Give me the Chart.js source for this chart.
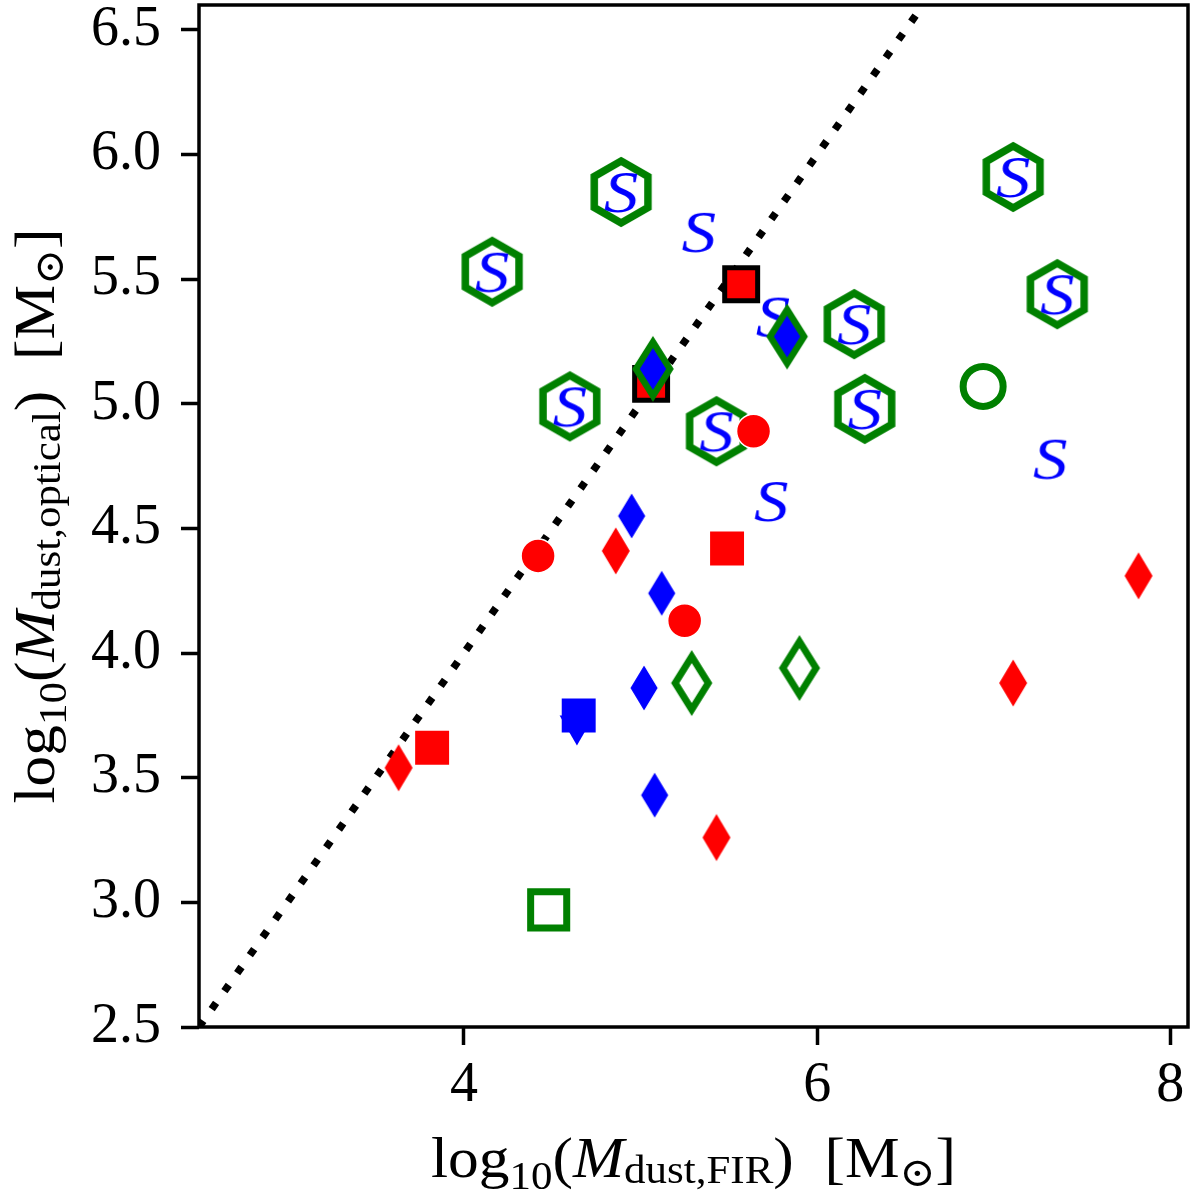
<!DOCTYPE html>
<html>
<head>
<meta charset="utf-8">
<script src="https://cdn.jsdelivr.net/npm/chart.js@4.4.1/dist/chart.umd.min.js"></script>
<style>
  html, body { margin: 0; background: #fff; }
</style>
</head>
<body>
<canvas id="dustChart" width="1200" height="1197"></canvas>
<script>
// axes
const xRange = [2.5, 8.1];
const yRange = [2.5, 6.6];
const xTicks = [4, 6, 8];
const yTicks = [2.5, 3.0, 3.5, 4.0, 4.5, 5.0, 5.5, 6.0, 6.5];

// 1:1 reference line
const oneToOne = [2.5, 6.6];

// green hexagons
const hexX = [4.89, 4.16, 4.60, 5.43, 6.21, 6.27, 7.11, 7.36];
const hexY = [5.85, 5.53, 4.99, 4.89, 5.32, 4.98, 5.91, 5.44];
// blue "S" marks without hexagon
const sOnlyX = [5.33, 5.75, 5.74, 7.32];
const sOnlyY = [5.69, 5.35, 4.61, 4.78];

// red squares with black edge
const redEdgeSqX = [5.57, 5.06];
const redEdgeSqY = [5.48, 5.08];
// blue diamonds with green edge
const greenEdgeDiaX = [5.07, 5.83];
const greenEdgeDiaY = [5.14, 5.27];

// red circles
const redCircX = [5.64, 4.42, 5.25];
const redCircY = [4.89, 4.39, 4.13];
// red squares
const redSqX = [5.49, 3.82];
const redSqY = [4.42, 3.62];
// red diamonds
const redDiaX = [4.86, 3.63, 5.43, 7.11, 7.82];
const redDiaY = [4.41, 3.54, 3.26, 3.88, 4.31];

// blue diamonds
const blueDiaX = [4.95, 5.12, 5.02, 5.08];
const blueDiaY = [4.55, 4.24, 3.86, 3.43];
// blue square + down triangle
const blueSqX = [4.65];
const blueSqY = [3.75];
const blueTriX = [4.64];
const blueTriY = [3.71];

// green open markers
const greenDiaX = [5.29, 5.90];
const greenDiaY = [3.88, 3.94];
const greenCircX = [6.94];
const greenCircY = [5.07];
const greenSqX = [4.48];
const greenSqY = [2.97];

const xTitle = [['log', ''], ['10', 'sub', 0.2], ['(', ''], ['M', 'it'], ['dust,FIR', 'sub', 0.1], [')', ''], ['  [M', ''], ['\u2299', 'sub', 0.15], [']', '']];
const yTitle = [['log', ''], ['10', 'sub', 0.2], ['(', ''], ['M', 'it'], ['dust,optical', 'sub', 0.1], [')', ''], ['  [M', ''], ['\u2299', 'sub', 0.15], [']', '']];

const RED = '#ff0000';
const BLUE = '#0000ff';
const GREEN = '#008000';
const SERIF = '"Liberation Serif", "DejaVu Serif", "DejaVu Sans", serif';

const pts = (xs, ys) => xs.map((x, i) => ({ x: x, y: ys[i] }));

// little canvases used as point styles
function markerCanvas(w, h, paint) {
  const c = document.createElement('canvas');
  c.width = w;
  c.height = h;
  const g = c.getContext('2d');
  g.translate(w / 2, h / 2);
  paint(g);
  return c;
}
function diamondPath(g, hw, hh) {
  g.beginPath();
  g.moveTo(0, -hh);
  g.lineTo(hw, 0);
  g.lineTo(0, hh);
  g.lineTo(-hw, 0);
  g.closePath();
}
const redDiamond = markerCanvas(34, 52, g => {
  diamondPath(g, 14, 23.5);
  g.fillStyle = RED;
  g.fill();
});
const blueDiamond = markerCanvas(36, 54, g => {
  diamondPath(g, 14.5, 24);
  g.fillStyle = BLUE;
  g.fill();
  g.strokeStyle = '#fff';
  g.lineWidth = 1.5;
  g.stroke();
});
const greenEdgeDiamond = markerCanvas(50, 76, g => {
  diamondPath(g, 17, 27);
  g.fillStyle = BLUE;
  g.fill();
  g.lineJoin = 'miter';
  g.miterLimit = 10;
  g.strokeStyle = GREEN;
  g.lineWidth = 6.5;
  g.stroke();
});
const greenOpenDiamond = markerCanvas(50, 76, g => {
  diamondPath(g, 16.5, 26.5);
  g.lineJoin = 'miter';
  g.miterLimit = 10;
  g.strokeStyle = GREEN;
  g.lineWidth = 7;
  g.stroke();
});
const hexagon = markerCanvas(76, 82, g => {
  g.beginPath();
  for (let k = 0; k < 6; k++) {
    const a = -Math.PI / 2 + k * Math.PI / 3;
    const px = 31 * Math.cos(a), py = 31 * Math.sin(a);
    if (k === 0) g.moveTo(px, py); else g.lineTo(px, py);
  }
  g.closePath();
  g.lineJoin = 'miter';
  g.strokeStyle = GREEN;
  g.lineWidth = 7.5;
  g.stroke();
});
const sMark = markerCanvas(76, 80, g => {
  g.font = 'italic 60px ' + SERIF;
  g.fillStyle = BLUE;
  g.textAlign = 'center';
  g.textBaseline = 'alphabetic';
  g.scale(1.15, 1);
  g.fillText('S', 0, 20);
});

// rich axis titles (subscripts, italic M)
function drawRich(ctx, parts, size) {
  let x = 0;
  for (const [t, kind, drop] of parts) {
    const fs = kind === 'sub' ? size * 0.7 : size;
    ctx.font = (kind === 'it' ? 'italic ' : '') + fs + 'px ' + SERIF;
    ctx.fillText(t, x, kind === 'sub' ? size * drop : 0);
    x += ctx.measureText(t).width;
  }
  return x;
}
function richWidth(ctx, parts, size) {
  let w = 0;
  for (const [t, kind] of parts) {
    const fs = kind === 'sub' ? size * 0.7 : size;
    ctx.font = (kind === 'it' ? 'italic ' : '') + fs + 'px ' + SERIF;
    w += ctx.measureText(t).width;
  }
  return w;
}

const framePlugin = {
  id: 'frame',
  afterDatasetsDraw(chart) {
    const { ctx, chartArea: a } = chart;
    ctx.save();
    ctx.strokeStyle = '#000';
    ctx.lineWidth = 3.5;
    ctx.strokeRect(a.left, a.top, a.right - a.left, a.bottom - a.top);
    ctx.restore();
  },
  afterDraw(chart) {
    const { ctx, chartArea: a } = chart;
    const size = 58;
    ctx.save();
    ctx.fillStyle = '#000';
    ctx.textBaseline = 'alphabetic';
    ctx.textAlign = 'left';
    // x title
    let w = richWidth(ctx, xTitle, size);
    let sx = Math.min(1.2, 525 / w);
    ctx.save();
    ctx.translate((a.left + a.right) / 2 - w * sx / 2, 1177);
    ctx.scale(sx, 1);
    drawRich(ctx, xTitle, size);
    ctx.restore();
    // y title
    w = richWidth(ctx, yTitle, size);
    sx = Math.min(1.2, 575 / w);
    ctx.save();
    ctx.translate(54, (a.top + a.bottom) / 2 + w * sx / 2);
    ctx.rotate(-Math.PI / 2);
    ctx.scale(sx, 1);
    drawRich(ctx, yTitle, size);
    ctx.restore();
    ctx.restore();
  }
};

const datasets = [
  { data: pts(oneToOne, oneToOne), showLine: true, borderColor: '#000', borderWidth: 7.5,
    borderDash: [7.5, 14.5], borderCapStyle: 'butt', pointRadius: 0 },
  { data: pts(hexX, hexY), pointStyle: hexagon, pointRadius: 20 },
  { data: pts(hexX.concat(sOnlyX), hexY.concat(sOnlyY)), pointStyle: sMark, pointRadius: 20 },
  { data: pts(blueTriX, blueTriY), pointStyle: 'triangle', rotation: 180, pointRadius: 20,
    backgroundColor: BLUE, borderWidth: 0 },
  { data: pts(blueSqX, blueSqY), pointStyle: 'rect', pointRadius: 24,
    backgroundColor: BLUE, borderWidth: 0 },
  { data: pts(greenSqX, greenSqY), pointStyle: 'rect', pointRadius: 25.5,
    backgroundColor: 'rgba(0,0,0,0)', borderColor: GREEN, borderWidth: 7 },
  { data: pts(greenCircX, greenCircY), pointStyle: 'circle', pointRadius: 20,
    backgroundColor: 'rgba(0,0,0,0)', borderColor: GREEN, borderWidth: 7 },
  { data: pts(greenDiaX, greenDiaY), pointStyle: greenOpenDiamond, pointRadius: 20 },
  { data: pts(redEdgeSqX, redEdgeSqY), pointStyle: 'rect', pointRadius: 23.3,
    backgroundColor: RED, borderColor: '#000', borderWidth: 5 },
  { data: pts(greenEdgeDiaX, greenEdgeDiaY), pointStyle: greenEdgeDiamond, pointRadius: 20 },
  { data: pts(redSqX, redSqY), pointStyle: 'rect', pointRadius: 24,
    backgroundColor: RED, borderWidth: 0 },
  { data: pts(redDiaX, redDiaY), pointStyle: redDiamond, pointRadius: 15 },
  { data: pts(blueDiaX, blueDiaY), pointStyle: blueDiamond, pointRadius: 15 },
  { data: pts(redCircX, redCircY), pointStyle: 'circle', pointRadius: 17,
    backgroundColor: RED, borderColor: '#fff', borderWidth: 1.5 }
];
// first in the list is drawn at the bottom
datasets.forEach((d, i) => { d.order = datasets.length - i; });

new Chart(document.getElementById('dustChart'), {
  type: 'scatter',
  data: { datasets: datasets },
  plugins: [framePlugin],
  options: {
    responsive: false,
    animation: false,
    events: [],
    layout: { autoPadding: false, padding: { top: 5, right: 12, left: 0, bottom: 0 } },
    plugins: {
      legend: { display: false },
      tooltip: { enabled: false }
    },
    scales: {
      x: {
        type: 'linear',
        min: xRange[0],
        max: xRange[1],
        afterBuildTicks: s => { s.ticks = xTicks.map(v => ({ value: v })); },
        afterFit: s => { s.height = 170; s.paddingLeft = 0; s.paddingRight = 0; },
        border: { display: false },
        grid: { drawOnChartArea: false, drawTicks: true, tickLength: 18, tickWidth: 3.5, tickColor: '#000' },
        ticks: {
          color: '#000',
          padding: 8,
          maxRotation: 0,
          font: { family: SERIF, size: 56 },
          callback: v => String(v)
        }
      },
      y: {
        type: 'linear',
        min: yRange[0],
        max: yRange[1],
        afterBuildTicks: s => { s.ticks = yTicks.map(v => ({ value: v })); },
        afterFit: s => { s.width = 199; s.paddingTop = 0; s.paddingBottom = 0; },
        border: { display: false },
        grid: { drawOnChartArea: false, drawTicks: true, tickLength: 18, tickWidth: 3.5, tickColor: '#000' },
        ticks: {
          color: '#000',
          padding: 20,
          font: { family: SERIF, size: 56 },
          callback: v => v.toFixed(1)
        }
      }
    }
  }
});
</script>
</body>
</html>
